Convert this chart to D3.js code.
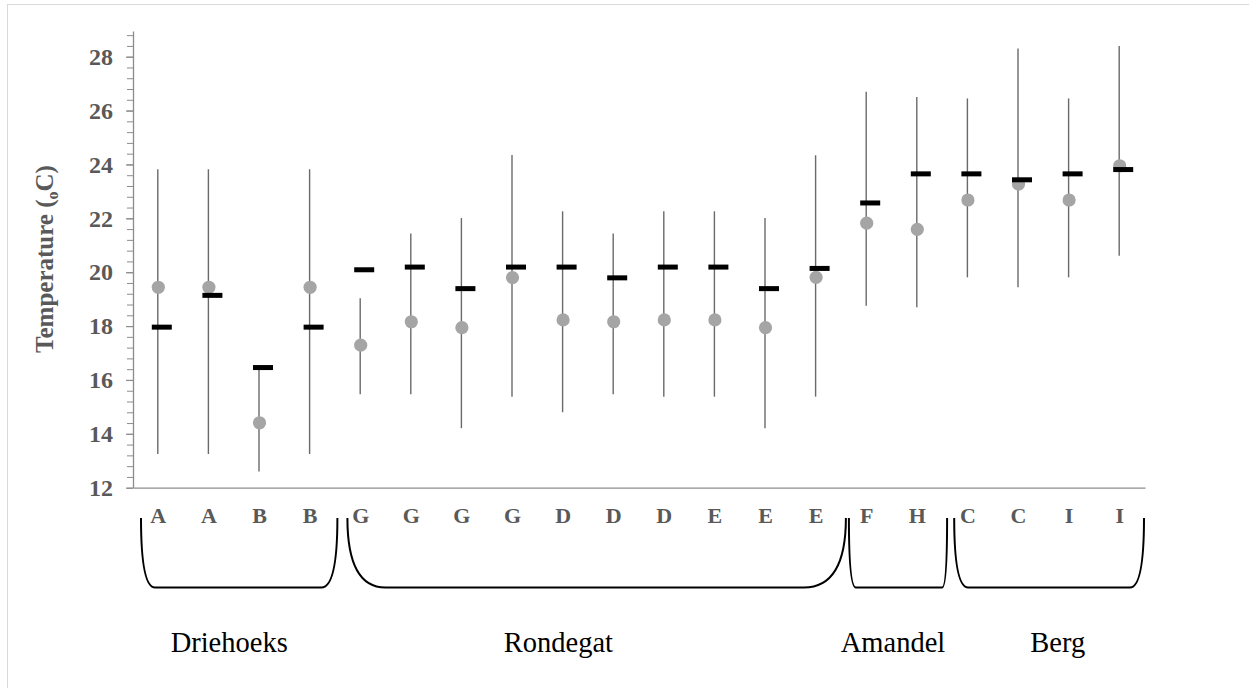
<!DOCTYPE html>
<html>
<head>
<meta charset="utf-8">
<script src="https://cdn.jsdelivr.net/npm/d3@7"></script>
<style>
  html, body { margin: 0; padding: 0; background: #fff; }
  svg { display: block; }
</style>
</head>
<body>
<svg id="chart" width="1249" height="688"></svg>
<script>
// Site codes along the x axis
const siteCodes = ["A", "A", "B", "B", "G", "G", "G", "G", "D", "D", "D", "E", "E", "E", "F", "H", "C", "C", "I", "I"];
// Mean temperature (grey dots)
const meanTemp = [19.44, 19.44, 14.41, 19.44, 17.29, 18.16, 17.94, 19.8, 18.23, 18.16, 18.23, 18.23, 17.94, 19.81, 21.82, 21.59, 22.68, 23.27, 22.68, 23.95];
// Second estimate (black dashes)
const dashTemp = [17.96, 19.14, 16.46, 17.96, 20.09, 20.19, 19.39, 20.19, 20.19, 19.79, 20.19, 20.19, 19.39, 20.14, 22.57, 23.65, 23.65, 23.43, 23.65, 23.81];
// Range bars
const minTemp = [13.25, 13.25, 12.6, 13.25, 15.47, 15.47, 14.21, 15.38, 14.8, 15.47, 15.38, 15.38, 14.21, 15.38, 18.75, 18.7, 19.81, 19.44, 19.81, 20.61];
const maxTemp = [23.82, 23.82, 16.46, 23.82, 19.03, 21.44, 22.01, 24.35, 22.26, 21.44, 22.26, 22.26, 22.01, 24.34, 26.7, 26.5, 26.45, 28.3, 26.45, 28.4];
// Rivers and how many sites each spans
const riverNames = ["Driehoeks", "Rondegat", "Amandel", "Berg"];
const riverSizes = [4, 10, 2, 4];
// Y axis ticks
const yTicks = [12, 14, 16, 18, 20, 22, 24, 26, 28];

const svg = d3.select("#chart");
const serif = "'Liberation Serif', 'Times New Roman', serif";
const textGrey = "#595959";
const axisGrey = "#8c8c8c";

// frame
svg.append("rect")
  .attr("x", 7.5).attr("y", 4.5).attr("width", 1260).attr("height", 700)
  .attr("fill", "none").attr("stroke", "#d9d9d9").attr("stroke-width", 1);

const idx = d3.range(siteCodes.length);
const x = d3.scaleBand().domain(idx).range([133, 1145]).padding(0);
const y = d3.scaleLinear().domain([12, 28.95]).range([487.7, 31.1]);
const cx = i => x(i) + x.bandwidth() / 2 - 0.5;

// minor ticks on y
const minorTicks = d3.range(12, 28.95, 0.4).map(v => +v.toFixed(1));
svg.append("g")
  .attr("transform", "translate(133,0)")
  .call(d3.axisLeft(y).tickValues(minorTicks).tickSize(6).tickSizeOuter(0).tickFormat(""))
  .call(g => g.selectAll("line").attr("stroke", axisGrey).attr("stroke-width", 1))
  .call(g => g.select(".domain").attr("stroke", axisGrey).attr("stroke-width", 1.3));

// major ticks + labels
svg.append("g")
  .attr("transform", "translate(133,0)")
  .call(d3.axisLeft(y).tickValues(yTicks).tickSize(7).tickSizeOuter(0).tickPadding(13))
  .call(g => g.select(".domain").remove())
  .call(g => g.selectAll("line").attr("stroke", axisGrey).attr("stroke-width", 1.2))
  .call(g => g.selectAll("text")
    .attr("font-family", serif).attr("font-size", 24).attr("font-weight", "bold")
    .attr("fill", textGrey));

// x axis line and site labels
svg.append("g")
  .attr("transform", `translate(0,${y(12)})`)
  .call(d3.axisBottom(x).tickSize(0).tickSizeOuter(0).tickPadding(0).tickFormat(""))
  .call(g => g.select(".domain").attr("stroke", axisGrey).attr("stroke-width", 1.3));

svg.append("g").selectAll("text")
  .data(idx).join("text")
  .attr("x", i => cx(i) + 0.5)
  .attr("y", 523)
  .attr("text-anchor", "middle")
  .attr("font-family", serif).attr("font-size", 22).attr("font-weight", "bold")
  .attr("fill", textGrey)
  .text(i => siteCodes[i]);

// y axis title
const title = svg.append("text")
  .attr("transform", "translate(53,259) rotate(-90)")
  .attr("text-anchor", "middle")
  .attr("font-family", serif).attr("font-size", 25).attr("font-weight", "bold")
  .attr("fill", textGrey);
title.append("tspan").text("Temperature (");
title.append("tspan").attr("font-size", 16).attr("dy", 5).text("o");
title.append("tspan").attr("dy", -5).text("C)");

// range bars
svg.append("g").selectAll("line")
  .data(idx).join("line")
  .attr("x1", cx).attr("x2", cx)
  .attr("y1", i => y(maxTemp[i])).attr("y2", i => y(minTemp[i]))
  .attr("stroke", "#6a6a6a").attr("stroke-width", 1.4);

// mean dots
svg.append("g").selectAll("circle")
  .data(idx).join("circle")
  .attr("cx", i => cx(i) + 0.5)
  .attr("cy", i => y(meanTemp[i]))
  .attr("r", 6.6)
  .attr("fill", "#a5a5a5");

// dashes
svg.append("g").selectAll("rect")
  .data(idx).join("rect")
  .attr("x", i => cx(i) + 4 - 10)
  .attr("y", i => y(dashTemp[i]) - 2.5)
  .attr("width", 20).attr("height", 5)
  .attr("fill", "#000");

// river brackets and names
const bracketTop = 518, bracketBottom = 587.5;
const bracketStyle = [
  { inL: 8, inR: 2, rL: 14, rR: 16, dx: -5 },
  { inL: 12, inR: 4.5, rL: 38, rR: 42, dx: -30 },
  { inL: 7.5, inR: 4.5, rL: 7, rR: 5, dx: 1 },
  { inL: 11.6, inR: -1, rL: 14, rR: 14, dx: 14 }
];
let start = 0;
riverNames.forEach((name, k) => {
  const end = start + riverSizes[k];
  const s = bracketStyle[k];
  const x0 = x(start) + s.inL;
  const x1 = x(end - 1) + x.bandwidth() + s.inR;
  const path = d3.path();
  path.moveTo(x0, bracketTop);
  path.quadraticCurveTo(x0, bracketBottom, x0 + s.rL, bracketBottom);
  path.lineTo(x1 - s.rR, bracketBottom);
  path.quadraticCurveTo(x1, bracketBottom, x1, bracketTop);
  svg.append("path")
    .attr("d", path.toString())
    .attr("fill", "none").attr("stroke", "#000").attr("stroke-width", 2);
  svg.append("text")
    .attr("x", (x(start) + x(end - 1) + x.bandwidth()) / 2 + s.dx)
    .attr("y", 651.7)
    .attr("text-anchor", "middle")
    .attr("font-family", serif).attr("font-size", 28.5)
    .attr("fill", "#000")
    .text(name);
  start = end;
});
</script>
</body>
</html>
